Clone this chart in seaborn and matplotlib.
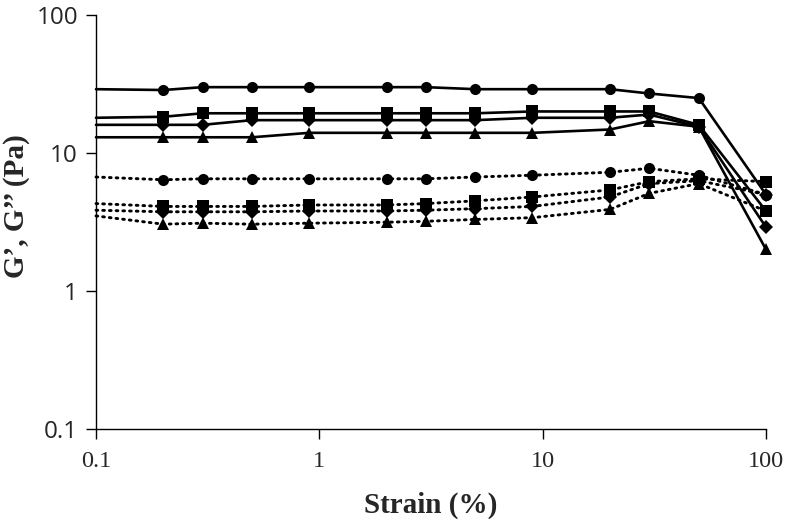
import matplotlib
matplotlib.use("Agg")
import matplotlib.pyplot as plt
import seaborn as sns
import pandas as pd
from matplotlib.ticker import FixedLocator, NullLocator

strain = [0.1, 0.2, 0.3, 0.5, 0.9, 2, 3, 5, 9, 20, 30, 50, 100]

g1_circle = [29, 28.6, 30, 30, 30, 30, 30, 29, 29, 29, 27, 25, 5.0]
g1_square = [18, 18.3, 19.4, 19.4, 19.4, 19.4, 19.4, 19.4, 20, 20, 20, 16, 3.8]
g1_diamond = [16, 16, 16, 17.3, 17.3, 17.3, 17.3, 17.3, 18, 18, 19, 15.5, 2.9]
g1_triangle = [13, 13, 13, 13, 14, 14, 14, 14, 14, 14.8, 17, 15.5, 2.0]

g2_circle = [6.7, 6.4, 6.5, 6.5, 6.5, 6.5, 6.5, 6.7, 6.9, 7.25, 7.75, 6.9, 5.0]
g2_square = [4.3, 4.1, 4.1, 4.1, 4.2, 4.2, 4.3, 4.5, 4.8, 5.4, 6.2, 6.5, 6.2]
g2_diamond = [3.85, 3.75, 3.75, 3.75, 3.8, 3.8, 3.85, 3.95, 4.1, 4.8, 6.0, 6.3, 5.0]
g2_triangle = [3.5, 3.05, 3.1, 3.05, 3.1, 3.15, 3.2, 3.3, 3.4, 3.9, 5.1, 6.0, 3.8]

y_ticks = [0.1, 1, 10, 100]
y_tick_labels = ["0.1", "1", "10", "100"]
x_ticks = [0.1, 1, 10, 100]
x_tick_labels = ["0.1", "1", "10", "100"]

series = [
    ("G' circle", g1_circle, "o", "solid"),
    ("G' square", g1_square, "s", "solid"),
    ("G' diamond", g1_diamond, "D", "solid"),
    ("G' triangle", g1_triangle, "^", "solid"),
    ("G'' circle", g2_circle, "o", "dotted"),
    ("G'' square", g2_square, "s", "dotted"),
    ("G'' diamond", g2_diamond, "D", "dotted"),
    ("G'' triangle", g2_triangle, "^", "dotted"),
]

sns.set_style("white")

fig = plt.figure(figsize=(7.86, 5.19), dpi=100)
ax = fig.add_axes([96 / 786, 1 - 429 / 519, (766 - 96) / 786, (429 - 15) / 519])

for name, vals, mk, ls in series:
    df = pd.DataFrame({"strain": strain, "value": vals})
    if ls == "solid":
        style = dict(linestyle="-", linewidth=1.9)
    else:
        style = dict(linestyle=(0, (0.6, 1.7)), linewidth=2.1, dash_capstyle="round")
    msize = 7.0 if mk == "D" else 8.0
    sns.lineplot(data=df, x="strain", y="value", ax=ax, color="black",
                 marker=mk, markersize=msize, markeredgewidth=0,
                 markevery=list(range(1, len(strain))), sort=False,
                 estimator=None, clip_on=False, zorder=3, **style)

ax.set_xscale("log")
ax.set_yscale("log")
ax.set_xlim(0.1, 100)
ax.set_ylim(0.1, 100)

ax.xaxis.set_major_locator(FixedLocator(x_ticks))
ax.yaxis.set_major_locator(FixedLocator(y_ticks))
ax.xaxis.set_minor_locator(NullLocator())
ax.yaxis.set_minor_locator(NullLocator())
ax.set_xticklabels(x_tick_labels, fontfamily="Liberation Serif", fontsize=17.5)
ax.set_yticklabels(y_tick_labels, fontfamily="Open Sans", fontsize=17.5)

ax.tick_params(axis="both", which="major", direction="out", length=7, width=1,
               color="black", bottom=True, left=True)
ax.tick_params(axis="x", pad=9)
ax.tick_params(axis="y", pad=6)

for s in ["top", "right"]:
    ax.spines[s].set_visible(False)
for s in ["left", "bottom"]:
    ax.spines[s].set_color("black")
    ax.spines[s].set_linewidth(1.0)

ax.set_xlabel("Strain (%)", fontfamily=["Liberation Serif", "DejaVu Serif"],
              fontweight="bold", fontsize=21, labelpad=14)
ax.set_ylabel("G\u2019, G\u2019\u2019 (Pa)", fontfamily=["Liberation Serif", "DejaVu Serif"],
              fontweight="bold", fontsize=21)
ax.yaxis.label.set_va("center")
ax.yaxis.set_label_coords(-0.118, 0.539)

fig.savefig("out.png", dpi=100)
